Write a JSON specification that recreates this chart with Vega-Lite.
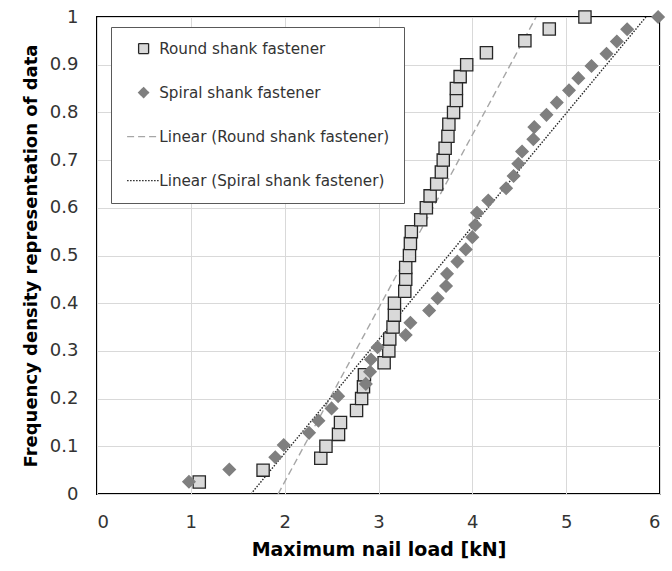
{
  "$schema": "https://vega.github.io/schema/vega-lite/v6.json",
  "width": 563,
  "height": 477,
  "autosize": {"type": "none"},
  "padding": {"left": 97, "top": 17, "right": 12, "bottom": 77},
  "background": "white",
  "config": {
    "font": "DejaVu Sans",
    "view": {"stroke": "#000000", "strokeWidth": 2},
    "axis": {"labelFont": "DejaVu Sans", "titleFont": "DejaVu Sans", "labelColor": "#333333", "titleColor": "#000000", "gridColor": "#d9d9d9", "gridWidth": 1, "domain": false, "ticks": false},
    "legend": {"title": null, "orient": "none", "legendX": 14, "legendY": 10, "symbolSize": 100, "symbolStrokeWidth": 1.3, "symbolOpacity": 1, "symbolOffset": 11, "labelFontSize": 15.2, "labelFont": "DejaVu Sans", "labelColor": "#333333", "labelOffset": 8, "rowPadding": 28, "padding": 14, "strokeColor": "#595959", "fillColor": "white", "labelLimit": 400}
  },
  "datasets": {
    "pts": [
      {"series": "Round shank fastener", "load": 1.09, "freq": 0.025},
      {"series": "Round shank fastener", "load": 1.77, "freq": 0.05},
      {"series": "Round shank fastener", "load": 2.385, "freq": 0.075},
      {"series": "Round shank fastener", "load": 2.44, "freq": 0.1},
      {"series": "Round shank fastener", "load": 2.574, "freq": 0.125},
      {"series": "Round shank fastener", "load": 2.595, "freq": 0.15},
      {"series": "Round shank fastener", "load": 2.766, "freq": 0.175},
      {"series": "Round shank fastener", "load": 2.82, "freq": 0.2},
      {"series": "Round shank fastener", "load": 2.84, "freq": 0.225},
      {"series": "Round shank fastener", "load": 2.85, "freq": 0.25},
      {"series": "Round shank fastener", "load": 3.06, "freq": 0.275},
      {"series": "Round shank fastener", "load": 3.11, "freq": 0.3},
      {"series": "Round shank fastener", "load": 3.12, "freq": 0.325},
      {"series": "Round shank fastener", "load": 3.155, "freq": 0.35},
      {"series": "Round shank fastener", "load": 3.17, "freq": 0.375},
      {"series": "Round shank fastener", "load": 3.17, "freq": 0.4},
      {"series": "Round shank fastener", "load": 3.28, "freq": 0.425},
      {"series": "Round shank fastener", "load": 3.29, "freq": 0.45},
      {"series": "Round shank fastener", "load": 3.29, "freq": 0.475},
      {"series": "Round shank fastener", "load": 3.33, "freq": 0.5},
      {"series": "Round shank fastener", "load": 3.34, "freq": 0.525},
      {"series": "Round shank fastener", "load": 3.35, "freq": 0.55},
      {"series": "Round shank fastener", "load": 3.45, "freq": 0.575},
      {"series": "Round shank fastener", "load": 3.51, "freq": 0.6},
      {"series": "Round shank fastener", "load": 3.55, "freq": 0.625},
      {"series": "Round shank fastener", "load": 3.62, "freq": 0.65},
      {"series": "Round shank fastener", "load": 3.67, "freq": 0.675},
      {"series": "Round shank fastener", "load": 3.69, "freq": 0.7},
      {"series": "Round shank fastener", "load": 3.71, "freq": 0.725},
      {"series": "Round shank fastener", "load": 3.74, "freq": 0.75},
      {"series": "Round shank fastener", "load": 3.75, "freq": 0.775},
      {"series": "Round shank fastener", "load": 3.8, "freq": 0.8},
      {"series": "Round shank fastener", "load": 3.83, "freq": 0.825},
      {"series": "Round shank fastener", "load": 3.83, "freq": 0.85},
      {"series": "Round shank fastener", "load": 3.87, "freq": 0.875},
      {"series": "Round shank fastener", "load": 3.94, "freq": 0.9},
      {"series": "Round shank fastener", "load": 4.15, "freq": 0.925},
      {"series": "Round shank fastener", "load": 4.56, "freq": 0.95},
      {"series": "Round shank fastener", "load": 4.82, "freq": 0.975},
      {"series": "Round shank fastener", "load": 5.2, "freq": 1.0},
      {"series": "Spiral shank fastener", "load": 0.98, "freq": 0.0256},
      {"series": "Spiral shank fastener", "load": 1.41, "freq": 0.0513},
      {"series": "Spiral shank fastener", "load": 1.9, "freq": 0.0769},
      {"series": "Spiral shank fastener", "load": 1.99, "freq": 0.1026},
      {"series": "Spiral shank fastener", "load": 2.26, "freq": 0.1282},
      {"series": "Spiral shank fastener", "load": 2.36, "freq": 0.1538},
      {"series": "Spiral shank fastener", "load": 2.5, "freq": 0.1795},
      {"series": "Spiral shank fastener", "load": 2.57, "freq": 0.2051},
      {"series": "Spiral shank fastener", "load": 2.865, "freq": 0.2308},
      {"series": "Spiral shank fastener", "load": 2.91, "freq": 0.2564},
      {"series": "Spiral shank fastener", "load": 2.92, "freq": 0.2821},
      {"series": "Spiral shank fastener", "load": 2.99, "freq": 0.3077},
      {"series": "Spiral shank fastener", "load": 3.29, "freq": 0.3333},
      {"series": "Spiral shank fastener", "load": 3.34, "freq": 0.359},
      {"series": "Spiral shank fastener", "load": 3.54, "freq": 0.3846},
      {"series": "Spiral shank fastener", "load": 3.63, "freq": 0.4103},
      {"series": "Spiral shank fastener", "load": 3.72, "freq": 0.4359},
      {"series": "Spiral shank fastener", "load": 3.73, "freq": 0.4615},
      {"series": "Spiral shank fastener", "load": 3.84, "freq": 0.4872},
      {"series": "Spiral shank fastener", "load": 3.93, "freq": 0.5128},
      {"series": "Spiral shank fastener", "load": 4.0, "freq": 0.5385},
      {"series": "Spiral shank fastener", "load": 4.03, "freq": 0.5641},
      {"series": "Spiral shank fastener", "load": 4.05, "freq": 0.5897},
      {"series": "Spiral shank fastener", "load": 4.17, "freq": 0.6154},
      {"series": "Spiral shank fastener", "load": 4.36, "freq": 0.641},
      {"series": "Spiral shank fastener", "load": 4.44, "freq": 0.6667},
      {"series": "Spiral shank fastener", "load": 4.49, "freq": 0.6923},
      {"series": "Spiral shank fastener", "load": 4.53, "freq": 0.7179},
      {"series": "Spiral shank fastener", "load": 4.65, "freq": 0.7436},
      {"series": "Spiral shank fastener", "load": 4.66, "freq": 0.7692},
      {"series": "Spiral shank fastener", "load": 4.79, "freq": 0.7949},
      {"series": "Spiral shank fastener", "load": 4.9, "freq": 0.8205},
      {"series": "Spiral shank fastener", "load": 5.03, "freq": 0.8462},
      {"series": "Spiral shank fastener", "load": 5.13, "freq": 0.8718},
      {"series": "Spiral shank fastener", "load": 5.27, "freq": 0.8974},
      {"series": "Spiral shank fastener", "load": 5.43, "freq": 0.9231},
      {"series": "Spiral shank fastener", "load": 5.54, "freq": 0.9487},
      {"series": "Spiral shank fastener", "load": 5.65, "freq": 0.9744},
      {"series": "Spiral shank fastener", "load": 5.98, "freq": 1.0}
    ],
    "trend": [
      {"series": "Linear (Round shank fastener)", "load": 1.93, "freq": 0},
      {"series": "Linear (Round shank fastener)", "load": 4.68, "freq": 1},
      {"series": "Linear (Spiral shank fastener)", "load": 1.64, "freq": 0},
      {"series": "Linear (Spiral shank fastener)", "load": 5.85, "freq": 1}
    ]
  },
  "encoding": {
    "x": {"field": "load", "type": "quantitative", "scale": {"domain": [0, 6], "nice": false},
      "axis": {"values": [0, 1, 2, 3, 4, 5, 6], "title": "Maximum nail load [kN]", "labelFontSize": 18, "labelPadding": 19, "titleFontSize": 19, "titleFontWeight": "bold", "titlePadding": 9}},
    "y": {"field": "freq", "type": "quantitative", "scale": {"domain": [0, 1], "nice": false},
      "axis": {"values": [0, 0.1, 0.2, 0.3, 0.4, 0.5, 0.6, 0.7, 0.8, 0.9, 1], "format": "~g", "title": "Frequency density representation of data", "labelFontSize": 18, "labelPadding": 19, "titleFontSize": 18, "titleFontWeight": "bold", "titlePadding": 9}}
  },
  "layer": [
    {
      "data": {"name": "trend"},
      "mark": {"type": "line", "clip": true, "strokeWidth": 1.4},
      "encoding": {
        "stroke": {"field": "series", "type": "nominal",
          "scale": {"domain": ["Round shank fastener", "Spiral shank fastener", "Linear (Round shank fastener)", "Linear (Spiral shank fastener)"], "range": ["#262626", "#7f7f7f", "#a6a6a6", "#262626"]}},
        "strokeDash": {"field": "series", "type": "nominal",
          "scale": {"domain": ["Round shank fastener", "Spiral shank fastener", "Linear (Round shank fastener)", "Linear (Spiral shank fastener)"], "range": [[1, 0], [1, 0], [7, 4], [1.5, 1.5]]}}
      }
    },
    {
      "data": {"name": "pts"},
      "mark": {"type": "point", "filled": true, "opacity": 1, "strokeWidth": 1.3, "size": 150},
      "encoding": {
        "shape": {"field": "series", "type": "nominal",
          "scale": {"domain": ["Round shank fastener", "Spiral shank fastener", "Linear (Round shank fastener)", "Linear (Spiral shank fastener)"], "range": ["square", "diamond", "M-3.3,0H3.3", "M-3.3,0H3.3"]}},
        "fill": {"field": "series", "type": "nominal",
          "scale": {"domain": ["Round shank fastener", "Spiral shank fastener", "Linear (Round shank fastener)", "Linear (Spiral shank fastener)"], "range": ["#d9d9d9", "#7f7f7f", "transparent", "transparent"]}},
        "stroke": {"field": "series", "type": "nominal"}
      }
    }
  ]
}
